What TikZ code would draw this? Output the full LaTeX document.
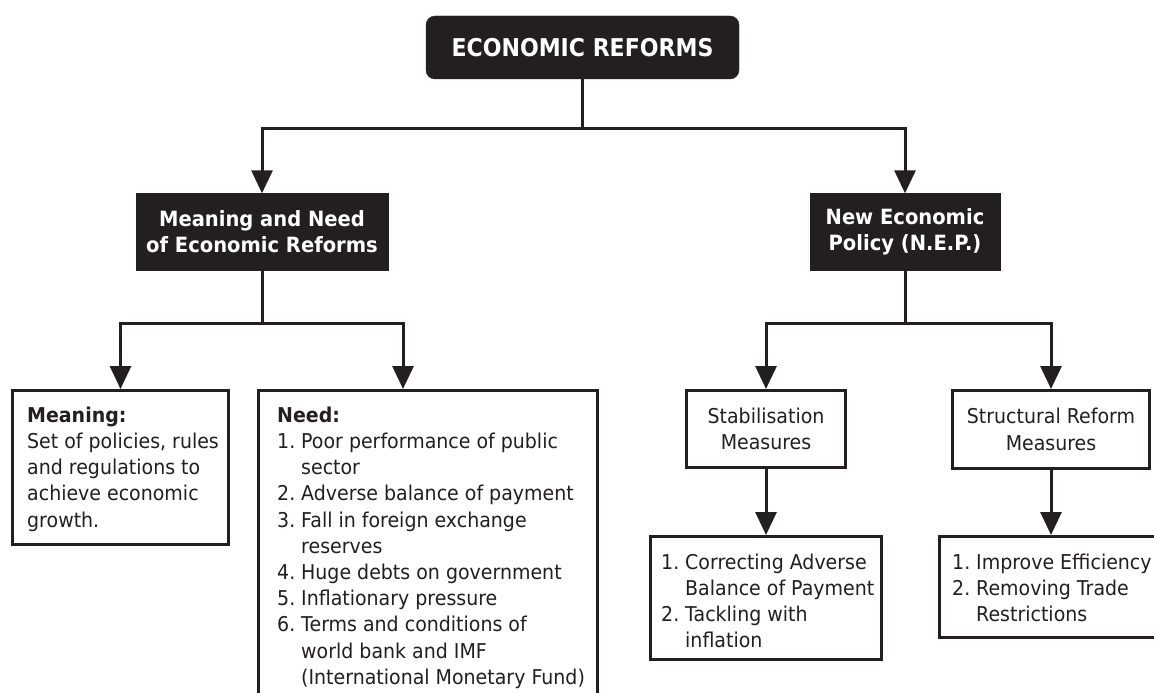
\documentclass[tikz,border=0pt]{standalone}
\usepackage{fontspec}
\setmainfont{DejaVu Sans}[FakeStretch=0.93]
\newfontfamily\topfont{DejaVu Sans}[FakeStretch=0.9]
\usetikzlibrary{arrows.meta,calc}
\definecolor{hdr}{RGB}{35,31,32}
\newcommand{\nm}[1]{\makebox[24pt][l]{#1}}
\newcommand{\ind}{\hspace*{24pt}}
\begin{document}
\begin{tikzpicture}[x=1pt,y=-1pt,
  hbox/.style={fill=hdr, draw=hdr, text=white, font=\fontsize{21}{26}\selectfont\bfseries, align=center, inner sep=0pt},
  wbox/.style={draw=hdr, line width=3pt, fill=white, inner sep=0pt, font=\fontsize{20.4}{26.5}\selectfont, align=center, text=hdr},
  txt/.style={font=\fontsize{20.4}{26.2}\selectfont, align=left, inner sep=0pt, anchor=north west, text=hdr},
  conn/.style={line width=3pt, draw=hdr},
  arr/.style={conn, -{Triangle[width=21pt,length=23pt]}}]
\path[use as bounding box, fill=white] (0,0) rectangle (1154,693);
\clip (0,0) rectangle (1154,693);

% header boxes
\node[hbox, rounded corners=9pt, minimum width=313pt, minimum height=63pt, font=\fontsize{24.5}{26}\selectfont\topfont\bfseries] (top) at (582.5,47.5) {ECONOMIC REFORMS};
\node[hbox, minimum width=252pt, minimum height=77pt] (mn) at (262,232) {Meaning and Need\\of Economic Reforms};
\node[hbox, minimum width=190pt, minimum height=77pt] (nep) at (905,232) {New Economic\\Policy (N.E.P.)};

% white boxes
\node[wbox, minimum width=216pt, minimum height=154pt] (mean) at (120.5,467.5) {};
\node[wbox, minimum width=339pt, minimum height=318pt] (need) at (428,549.5) {};
\node[wbox, minimum width=159pt, minimum height=77pt] (stab) at (766,429) {Stabilisation\\Measures};
\node[wbox, minimum width=197pt, minimum height=78pt] (struct) at (1051,429.5) {Structural Reform\\Measures};
\node[wbox, minimum width=231pt, minimum height=123pt] (lstab) at (766,598) {};
\node[wbox, minimum width=223pt, minimum height=101pt] (lstruct) at (1051,587) {};

% texts
\node[txt] (meantxt) at (27,403.7) {\strut\textbf{Meaning:}\\Set of policies, rules\\and regulations to\\achieve economic\\growth.};
\node[txt] (needtxt) at (277,403.7) {\strut\textbf{Need:}\\
\nm{1.}Poor performance of public\\
\ind sector\\
\nm{2.}Adverse balance of payment\\
\nm{3.}Fall in foreign exchange\\
\ind reserves\\
\nm{4.}Huge debts on government\\
\nm{5.}Inflationary pressure\\
\nm{6.}Terms and conditions of\\
\ind world bank and IMF\\
\ind (International Monetary Fund)};
\node[txt] (lstabtxt) at (661,550.7) {\strut\nm{1.}Correcting Adverse\\\ind Balance of Payment\\\nm{2.}Tackling with\\\ind inflation};
\node[txt] (lstructtxt) at (952,550.7) {\strut\nm{1.}Improve Efficiency\\\nm{2.}Removing Trade\\\ind Restrictions};

% connectors
\coordinate (bus1) at (0,128);
\coordinate (bus2) at (0,323);
\coordinate (nx) at (403,0);
\draw[conn] (top.south) -- (top.south |- bus1) coordinate (tb);
\draw[arr] (tb) -| (mn.north);
\draw[arr] (tb) -| (nep.north);
\draw[conn] (mn.south) -- (mn.south |- bus2) coordinate (mb);
\draw[arr] (mb) -| (mean.north);
\draw[arr] (mb) -| (need.north -| nx);
\draw[conn] (nep.south) -- (nep.south |- bus2) coordinate (nb);
\draw[arr] (nb) -| (stab.north);
\draw[arr] (nb) -| (struct.north);
\draw[arr] (stab.south) -- (lstab.north);
\draw[arr] (struct.south) -- (lstruct.north);
\end{tikzpicture}
\end{document}
